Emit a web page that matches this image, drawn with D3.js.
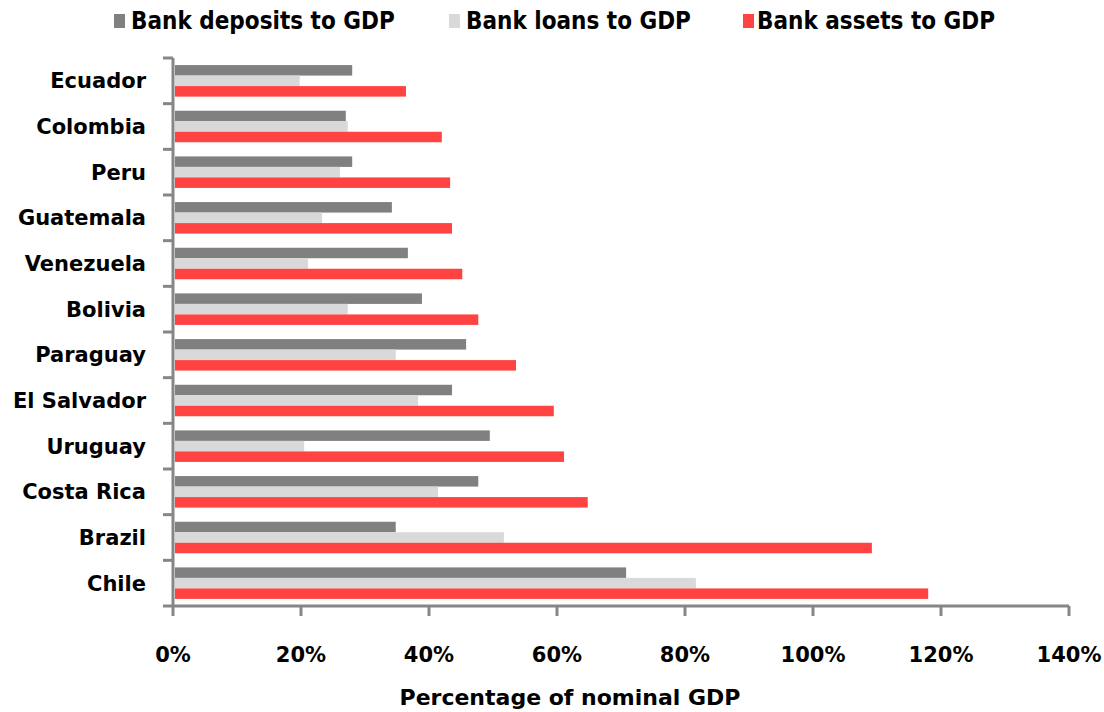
<!DOCTYPE html>
<html>
<head>
<meta charset="utf-8">
<script src="https://cdn.jsdelivr.net/npm/d3@7"></script>
<style>
  body { margin: 0; background: #fff; }
  svg text { font-family: "DejaVu Sans", sans-serif; font-weight: bold; fill: #000; }
</style>
</head>
<body>
<svg id="chart" width="1104" height="712"></svg>
<script>
var countries = ['Ecuador', 'Colombia', 'Peru', 'Guatemala', 'Venezuela', 'Bolivia',
    'Paraguay', 'El Salvador', 'Uruguay', 'Costa Rica', 'Brazil', 'Chile'];
var deposits = [28.0, 27.0, 28.0, 34.2, 36.7, 38.9, 45.8, 43.6, 49.5, 47.7, 34.8, 70.8];
var loans = [19.8, 27.3, 26.1, 23.3, 21.1, 27.3, 34.8, 38.3, 20.5, 41.4, 51.7, 81.7];
var assets = [36.4, 42.0, 43.3, 43.6, 45.2, 47.7, 53.6, 59.5, 61.1, 64.8, 109.2, 118.0];
var seriesNames = ['Bank deposits to GDP', 'Bank loans to GDP', 'Bank assets to GDP'];
var seriesColors = ['#808080', '#d9d9d9', '#ff4343'];
var xTicks = [0, 20, 40, 60, 80, 100, 120, 140];

var svg = d3.select('#chart');
var margin = {left: 173, right: 35, top: 58, bottom: 106};
var width = 1104 - margin.left - margin.right;
var height = 712 - margin.top - margin.bottom;
var g = svg.append('g').attr('transform', 'translate(' + margin.left + ',' + margin.top + ')');

var x = d3.scaleLinear().domain([0, 140]).range([0, width]);
var y = d3.scaleBand().domain(countries).range([0, height]).paddingInner(0.31).paddingOuter(0.155);
var ySeries = d3.scaleBand().domain([0, 1, 2]).range([0, y.bandwidth()]);

var series = [deposits, loans, assets];
series.forEach(function (vals, si) {
    g.append('g').selectAll('rect')
        .data(vals)
        .enter().append('rect')
        .attr('x', x(0) + 2)
        .attr('y', function (d, i) { return y(countries[i]) + ySeries(si); })
        .attr('width', function (d) { return Math.max(0, x(d) - x(0) - 2); })
        .attr('height', ySeries.bandwidth())
        .attr('fill', seriesColors[si]);
});

// y axis: line with ticks at category boundaries
var axisColor = '#868686';
g.append('line')
    .attr('x1', 0).attr('x2', 0).attr('y1', 0).attr('y2', height)
    .attr('stroke', axisColor).attr('stroke-width', 3);
var bounds = d3.range(countries.length + 1);
g.append('g').selectAll('line')
    .data(bounds)
    .enter().append('line')
    .attr('x1', -10).attr('x2', 0)
    .attr('y1', function (d) { return d * height / countries.length; })
    .attr('y2', function (d) { return d * height / countries.length; })
    .attr('stroke', axisColor).attr('stroke-width', 3);

g.append('g').selectAll('text')
    .data(countries)
    .enter().append('text')
    .attr('x', -27)
    .attr('y', function (d) { return y(d) + y.bandwidth() / 2; })
    .attr('dy', '0.35em')
    .attr('text-anchor', 'end')
    .attr('font-size', 21)
    .text(function (d) { return d; });

// x axis
g.append('line')
    .attr('x1', 0).attr('x2', width).attr('y1', height).attr('y2', height)
    .attr('stroke', axisColor).attr('stroke-width', 3);
g.append('g').selectAll('line')
    .data(xTicks)
    .enter().append('line')
    .attr('x1', function (d) { return x(d); })
    .attr('x2', function (d) { return x(d); })
    .attr('y1', height).attr('y2', height + 10)
    .attr('stroke', axisColor).attr('stroke-width', 3);
g.append('g').selectAll('text')
    .data(xTicks)
    .enter().append('text')
    .attr('x', function (d) { return x(d); })
    .attr('y', height + 49)
    .attr('dy', '0.35em')
    .attr('text-anchor', 'middle')
    .attr('font-size', 21)
    .text(function (d) { return d + '%'; });

svg.append('text')
    .attr('x', 570).attr('y', 705)
    .attr('text-anchor', 'middle')
    .attr('font-size', 22)
    .text('Percentage of nominal GDP');

// legend
var legendSwatchX = [114, 449, 743];
var legendTextX = [131, 466, 757];
var legend = svg.append('g').selectAll('g')
    .data(seriesNames)
    .enter().append('g');
legend.append('rect')
    .attr('x', function (d, i) { return legendSwatchX[i]; })
    .attr('y', 14).attr('width', 11).attr('height', 14)
    .attr('fill', function (d, i) { return seriesColors[i]; });
legend.append('text')
    .attr('x', function (d, i) { return legendTextX[i]; })
    .attr('y', 21).attr('dy', '0.35em')
    .attr('font-size', 24)
    .style('font-family', '"DejaVu Sans Condensed", "DejaVu Sans", sans-serif')
    .text(function (d) { return d; });
</script>
</body>
</html>
